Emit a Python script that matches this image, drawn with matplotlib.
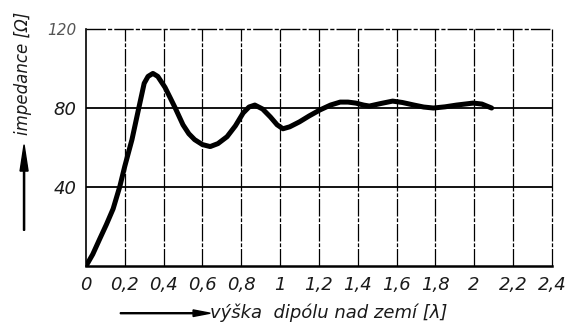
import numpy as np
import matplotlib.pyplot as plt
from matplotlib.patches import FancyArrow

# dipole height above ground [wavelengths] vs. input impedance [ohm]
height = [0.0, 0.035, 0.072, 0.105, 0.14, 0.175, 0.2, 0.237, 0.27, 0.30,
          0.32, 0.345, 0.37, 0.407, 0.435, 0.46, 0.50, 0.53, 0.56, 0.60,
          0.64, 0.68, 0.727, 0.77, 0.81, 0.84, 0.87, 0.91, 0.95, 0.985,
          1.015, 1.05, 1.10, 1.15, 1.205, 1.26, 1.31, 1.35, 1.39, 1.43,
          1.46, 1.52, 1.58, 1.63, 1.69, 1.74, 1.79, 1.85, 1.91, 1.995,
          2.04, 2.09]
impedance = [0.0, 6, 14, 21, 29, 40.5, 50.5, 64, 79, 92.5,
             96, 97.5, 96, 90.5, 85, 80, 71.5, 67, 64, 61.5,
             60.5, 62, 65.5, 71, 77.5, 80.5, 81.5, 79.5, 75.5, 71.5,
             69.5, 70.5, 73, 76, 79, 81.5, 83, 83, 82.5, 81.5,
             81, 82.3, 83.5, 82.8, 81.5, 80.5, 80, 80.6, 81.5, 82.5,
             82, 80]

x_ticks = [0, 0.2, 0.4, 0.6, 0.8, 1.0, 1.2, 1.4, 1.6, 1.8, 2.0, 2.2, 2.4]
x_labels = ['0', '0,2', '0,4', '0,6', '0,8', '1', '1,2', '1,4', '1,6', '1,8', '2', '2,2', '2,4']
y_ticks = [40, 80, 120]
y_labels = ['40', '80', '120']

plt.rcParams['font.family'] = ['DejaVu Sans']
fig = plt.figure(figsize=(5.73, 3.29), dpi=100)
ax = fig.add_axes([0.150, 0.191, 0.813, 0.721])

# grid: broken verticals, solid horizontals
for xv in x_ticks[1:]:
    ax.axvline(xv, color='black', lw=0.9, ls=(0, (14, 1.5, 3, 1.5)),
               zorder=1, clip_on=False)
for yv in [40, 80]:
    ax.axhline(yv, color='black', lw=1.3, zorder=1)
ax.axhline(120, color='black', lw=1.0, ls=(0, (14, 1.5, 3, 1.5)),
           zorder=1, clip_on=False)

ax.plot(height, impedance, color='black', lw=3.6,
        solid_joinstyle='round', solid_capstyle='round', zorder=3)

ax.set_xlim(0, 2.4)
ax.set_ylim(0, 120)
for side in ['top', 'right']:
    ax.spines[side].set_visible(False)
ax.spines['left'].set_linewidth(1.2)
ax.spines['bottom'].set_linewidth(1.8)

ax.set_xticks(x_ticks)
ax.set_xticklabels(x_labels, fontsize=13, style='italic', color='#1a1a1a')
ax.set_yticks(y_ticks)
ax.set_yticklabels(y_labels, fontsize=13, style='italic', color='#1a1a1a')
ax.get_yticklabels()[-1].set_fontsize(11)
ax.get_yticklabels()[-1].set_color('#555555')
ax.tick_params(length=0, pad=7)

# y axis caption with upward arrow
fig.text(0.040, 0.59, 'impedance [Ω]', rotation=90, fontsize=12,
         style='italic', ha='center', va='bottom', color='#1a1a1a')
fig.patches.append(FancyArrow(
    0.042, 0.30, 0, 0.26, width=0.002, head_width=0.014, head_length=0.08,
    length_includes_head=True, color='black', transform=fig.transFigure))

# x axis caption with arrow to the right
fig.text(0.367, 0.048, 'výška  dipólu nad zemí [λ]', fontsize=13,
         style='italic', ha='left', va='center', color='#1a1a1a')
fig.patches.append(FancyArrow(
    0.21, 0.048, 0.157, 0, width=0.003, head_width=0.02, head_length=0.03,
    length_includes_head=True, color='black', transform=fig.transFigure))

fig.savefig('out.png', dpi=100)
